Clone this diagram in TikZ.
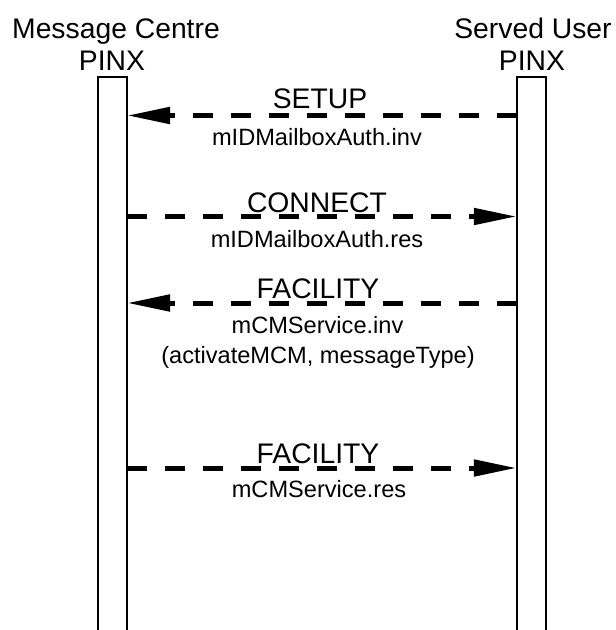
\documentclass[tikz,border=0pt]{standalone}
\usepackage{fontspec}
\setmainfont{Liberation Sans}
\usetikzlibrary{arrows.meta}
\begin{document}
\begin{tikzpicture}[x=1pt,y=-1pt,
  bigtxt/.style={anchor=base,inner sep=0pt,font=\fontsize{28.3}{34}\selectfont},
  smalltxt/.style={anchor=base,inner sep=0pt,font=\fontsize{23.6}{28}\selectfont},
  lifeline/.style={draw,line width=2pt,outer sep=0pt,inner sep=0pt,minimum width=29.5pt,minimum height=600pt,anchor=north},
  msg/.style={line width=5pt,dash pattern=on 20pt off 18pt,-{Triangle[length=43pt,width=16pt]}}]
\useasboundingbox (0,0) rectangle (616,630);
\clip (0,0) rectangle (616,630);
\node[lifeline] (L) at (112.25,77) {};
\node[lifeline] (R) at (531.5,77) {};
\node[bigtxt] (lt1) at (116,38) {Message Centre};
\node[bigtxt] (lt2) at (112,70) {PINX};
\node[bigtxt] (rt1) at (533,38) {Served User};
\node[bigtxt] (rt2) at (532,70) {PINX};
% messages
\draw[msg] (R.west |- 0,115.5) -- (L.east |- 0,115.5);
\node[bigtxt] (m1) at (320,108) {SETUP};
\node[smalltxt] (m1a) at (317,145) {mIDMailboxAuth.inv};
\draw[msg] (L.east |- 0,216.5) -- (R.west |- 0,216.5);
\node[bigtxt] (m2) at (317,212) {CONNECT};
\node[smalltxt] (m2a) at (317,247) {mIDMailboxAuth.res};
\draw[msg] (R.west |- 0,303) -- (L.east |- 0,303);
\node[bigtxt] (m3) at (318,298) {FACILITY};
\node[smalltxt] (m3a) at (317.5,333) {mCMService.inv};
\node[smalltxt] (m3b) at (318,363) {(activateMCM, messageType)};
\draw[msg] (L.east |- 0,468) -- (R.west |- 0,468);
\node[bigtxt] (m4) at (318,463) {FACILITY};
\node[smalltxt] (m4a) at (319,497) {mCMService.res};
\end{tikzpicture}
\end{document}
